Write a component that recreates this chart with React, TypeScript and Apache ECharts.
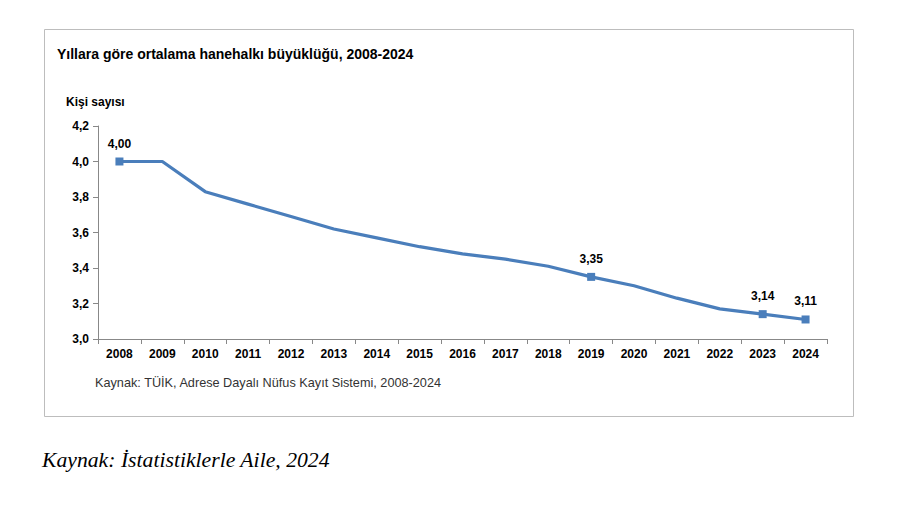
import React, { useEffect, useRef } from "react";
import * as echarts from "echarts";

const years = ["2008", "2009", "2010", "2011", "2012", "2013", "2014", "2015", "2016", "2017", "2018", "2019", "2020", "2021", "2022", "2023", "2024"];
const householdSize = [4.0, 4.0, 3.83, 3.76, 3.69, 3.62, 3.57, 3.52, 3.48, 3.45, 3.41, 3.35, 3.3, 3.23, 3.17, 3.14, 3.11];
const labelledYears = ["2008", "2019", "2023", "2024"];
const yTicks = { min: 3.0, max: 4.2, interval: 0.2 };

const titleText = "Yıllara göre ortalama hanehalkı büyüklüğü, 2008-2024";
const yAxisTitle = "Kişi sayısı";
const sourceText = "Kaynak: TÜİK, Adrese Dayalı Nüfus Kayıt Sistemi, 2008-2024";
const captionText = "Kaynak: İstatistiklerle Aile, 2024";

const comma = (v: number, d: number) => v.toFixed(d).replace(".", ",");

export default function App() {
  const ref = useRef<HTMLDivElement>(null);

  useEffect(() => {
    if (!ref.current) return;
    const chart = echarts.init(ref.current, undefined, { renderer: "svg" });
    const font = "'Liberation Sans', Arial, sans-serif";
    const lineColor = "#4a7ebb";

    const data = householdSize.map((v, i) => {
      const show = labelledYears.includes(years[i]);
      return {
        value: v,
        symbol: show ? "rect" : "none",
        symbolSize: 8,
        label: { show },
      };
    });

    chart.setOption({
      animation: false,
      backgroundColor: "#ffffff",
      textStyle: { fontFamily: font },
      grid: { left: 98, right: 73, top: 126, bottom: 171 },
      graphic: [
        {
          type: "rect",
          shape: { x: 44.5, y: 29.5, width: 809, height: 387 },
          style: { fill: "none", stroke: "#bdbdbd", lineWidth: 1 },
          silent: true,
        },
        {
          type: "text",
          left: 57,
          top: 47,
          style: { text: titleText, font: `bold 14px ${font}`, fill: "#000" },
        },
        {
          type: "text",
          left: 66,
          top: 96,
          style: { text: yAxisTitle, font: `bold 12px ${font}`, fill: "#000" },
        },
        {
          type: "text",
          left: 95,
          top: 376,
          style: { text: sourceText, font: `12.7px ${font}`, fill: "#333" },
        },
        {
          type: "text",
          left: 42,
          top: 449,
          style: {
            text: captionText,
            font: `italic 21.7px 'Liberation Serif', 'Times New Roman', serif`,
            fill: "#000",
          },
        },
      ],
      xAxis: {
        type: "category",
        data: years,
        boundaryGap: true,
        axisLine: { lineStyle: { color: "#888", width: 1 } },
        axisTick: { show: true, length: 5, lineStyle: { color: "#888" } },
        axisLabel: { color: "#000", fontWeight: "bold", fontSize: 12, margin: 9, fontFamily: font },
      },
      yAxis: {
        type: "value",
        min: yTicks.min,
        max: yTicks.max,
        interval: yTicks.interval,
        axisLine: { show: true, lineStyle: { color: "#888", width: 1 } },
        axisTick: { show: true, length: 5, lineStyle: { color: "#888" } },
        splitLine: { show: false },
        axisLabel: {
          color: "#000",
          fontWeight: "bold",
          fontSize: 12,
          margin: 9,
          fontFamily: font,
          formatter: (v: number) => comma(v, 1),
        },
      },
      series: [
        {
          type: "line",
          data,
          showSymbol: true,
          lineStyle: { color: lineColor, width: 3.2 },
          itemStyle: { color: lineColor },
          label: {
            position: "top",
            distance: 8,
            color: "#000",
            fontWeight: "bold",
            fontSize: 12,
            fontFamily: font,
            formatter: (p: any) => comma(p.value, 2),
          },
        },
      ],
    });

    return () => chart.dispose();
  }, []);

  return (
    <div
      ref={ref}
      style={{ position: "absolute", left: 0, top: 0, width: 900, height: 510 }}
    />
  );
}
